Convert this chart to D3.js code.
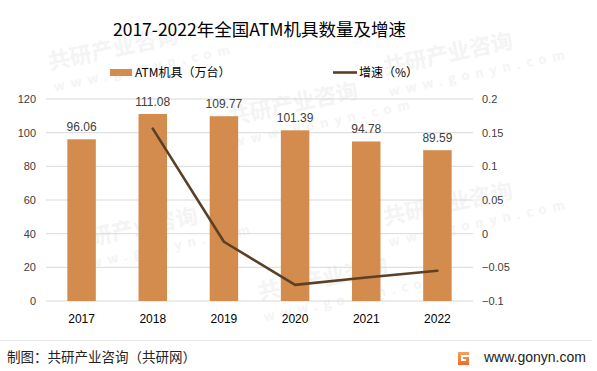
<!DOCTYPE html>
<html>
<head>
<meta charset="utf-8">
<script src="https://cdn.jsdelivr.net/npm/d3@7"></script>
<style>
  body { margin: 0; background: #fff; }
  svg { display: block; font-family: "Noto Sans CJK SC", "Noto Sans", sans-serif; }
</style>
</head>
<body>
<svg id="chart"></svg>
<script>
const years = ["2017", "2018", "2019", "2020", "2021", "2022"];
const atmCount = [96.06, 111.08, 109.77, 101.39, 94.78, 89.59];
const growth = [null, 0.156, -0.012, -0.076, -0.065, -0.055];
const leftTicks = [0, 20, 40, 60, 80, 100, 120];
const rightTicks = [-0.1, -0.05, 0, 0.05, 0.1, 0.15, 0.2];

const W = 597, H = 371;
const svg = d3.select("#chart").attr("width", W).attr("height", H);

// faint watermark, kept inside the picture
let wm = svg.append("g").attr("fill", "#f4f4f4").attr("font-weight", "bold");
let wmSpots = [[50, 70], [230, 125], [385, 75], [70, 250], [260, 300], [385, 225]];
for (let p of wmSpots) {
    let gw = wm.append("g").attr("transform", "translate(" + p[0] + "," + p[1] + ") rotate(-12)");
    gw.append("text").attr("font-size", 22).text("共研产业咨询");
    gw.append("text").attr("y", 22).attr("font-size", 13).attr("letter-spacing", 6).text("www.gonyn.com");
}

const margin = {top: 99, right: 124, bottom: 70, left: 46};
const width = W - margin.left - margin.right,
      height = H - margin.top - margin.bottom;
const g = svg.append("g").attr("transform", "translate(" + margin.left + "," + margin.top + ")");

const x = d3.scaleBand().domain(years).range([0, width]).paddingInner(0.6).paddingOuter(0.3);
const y = d3.scaleLinear().domain([0, 120]).range([height, 0]);
const y2 = d3.scaleLinear().domain([-0.1, 0.2]).range([height, 0]);

// gridlines
g.append("g")
    .selectAll("line")
    .data(leftTicks)
    .enter().append("line")
        .attr("x1", 0).attr("x2", width)
        .attr("y1", d => y(d)).attr("y2", d => y(d))
        .attr("stroke", "#d9d9d9").attr("stroke-width", 1);

// left axis
g.append("g")
    .attr("transform", "translate(-10,0)")
    .call(d3.axisLeft(y).tickValues(leftTicks).tickSize(0).tickPadding(0))
    .call(a => a.select(".domain").remove())
    .selectAll("text")
        .attr("font-size", 11).attr("fill", "#404040")
        .attr("font-family", "'Liberation Sans', sans-serif");

// right axis
g.append("g")
    .attr("transform", "translate(" + (width + 9) + ",0)")
    .call(d3.axisRight(y2).tickValues(rightTicks).tickSize(0).tickPadding(0).tickFormat(d => d3.format("")(+d.toFixed(2))))
    .call(a => a.select(".domain").remove())
    .selectAll("text")
        .attr("font-size", 11).attr("fill", "#404040")
        .attr("font-family", "'Liberation Sans', sans-serif");

// bottom axis
g.append("g")
    .attr("transform", "translate(0," + height + ")")
    .call(d3.axisBottom(x).tickSize(0).tickPadding(13))
    .call(a => a.select(".domain").remove())
    .selectAll("text")
        .attr("font-size", 12).attr("fill", "#000")
        .attr("font-family", "'Liberation Sans', sans-serif");

// bars
g.selectAll("rect.bar")
    .data(years)
    .enter().append("rect")
        .attr("class", "bar")
        .attr("x", d => x(d))
        .attr("width", x.bandwidth())
        .attr("y", (d, i) => y(atmCount[i]))
        .attr("height", (d, i) => height - y(atmCount[i]))
        .attr("fill", "#d38c4d");

g.selectAll("text.val")
    .data(years)
    .enter().append("text")
        .attr("class", "val")
        .attr("x", d => x(d) + x.bandwidth() / 2)
        .attr("y", (d, i) => y(atmCount[i]) - 8)
        .attr("text-anchor", "middle")
        .attr("font-size", 12).attr("fill", "#404040")
        .attr("font-family", "'Liberation Sans', sans-serif")
        .text((d, i) => atmCount[i].toFixed(2));

// growth line
const line = d3.line()
    .defined(d => d[1] != null)
    .x(d => x(d[0]) + x.bandwidth() / 2)
    .y(d => y2(d[1]));

g.append("path")
    .datum(years.map((d, i) => [d, growth[i]]))
    .attr("fill", "none")
    .attr("stroke", "#5c3f25")
    .attr("stroke-width", 2.6)
    .attr("stroke-linejoin", "round")
    .attr("stroke-linecap", "round")
    .attr("d", line);

// title
svg.append("text")
    .attr("x", margin.left + width / 2).attr("y", 36)
    .attr("text-anchor", "middle")
    .attr("font-size", 17.5).attr("fill", "#000")
    .text("2017-2022年全国ATM机具数量及增速");

// legend
svg.append("rect").attr("x", 110).attr("y", 69).attr("width", 22).attr("height", 7).attr("fill", "#d38c4d");
svg.append("text").attr("x", 135).attr("y", 77).attr("font-size", 12).attr("fill", "#000").text("ATM机具（万台）");
svg.append("line").attr("x1", 333).attr("x2", 357).attr("y1", 72.5).attr("y2", 72.5)
    .attr("stroke", "#5c3f25").attr("stroke-width", 2.6);
svg.append("text").attr("x", 359).attr("y", 77).attr("font-size", 12).attr("fill", "#000").text("增速（%）");

// footer
svg.append("line").attr("x1", 0).attr("x2", 592).attr("y1", 340.5).attr("y2", 340.5)
    .attr("stroke", "#e6e6e6").attr("stroke-width", 1);
svg.append("text").attr("x", 7).attr("y", 362).attr("font-size", 13.5).attr("fill", "#222")
    .text("制图：共研产业咨询（共研网）");

const defs = svg.append("defs");
const grad = defs.append("linearGradient").attr("id", "logoGrad").attr("x1", 0).attr("y1", 0).attr("x2", 0).attr("y2", 1);
grad.append("stop").attr("offset", "0%").attr("stop-color", "#f7a25c");
grad.append("stop").attr("offset", "100%").attr("stop-color", "#f06a2c");
svg.append("path")
    .attr("d", "M458,352 h11 v3 h-8 v6 h5 v-2 h-3 v-2 h6 v8 h-11 z")
    .attr("fill", "url(#logoGrad)");
svg.append("text").attr("x", 484).attr("y", 362).attr("font-size", 14).attr("fill", "#222")
    .attr("font-family", "'Liberation Sans', sans-serif")
    .text("www.gonyn.com");
</script>
</body>
</html>
